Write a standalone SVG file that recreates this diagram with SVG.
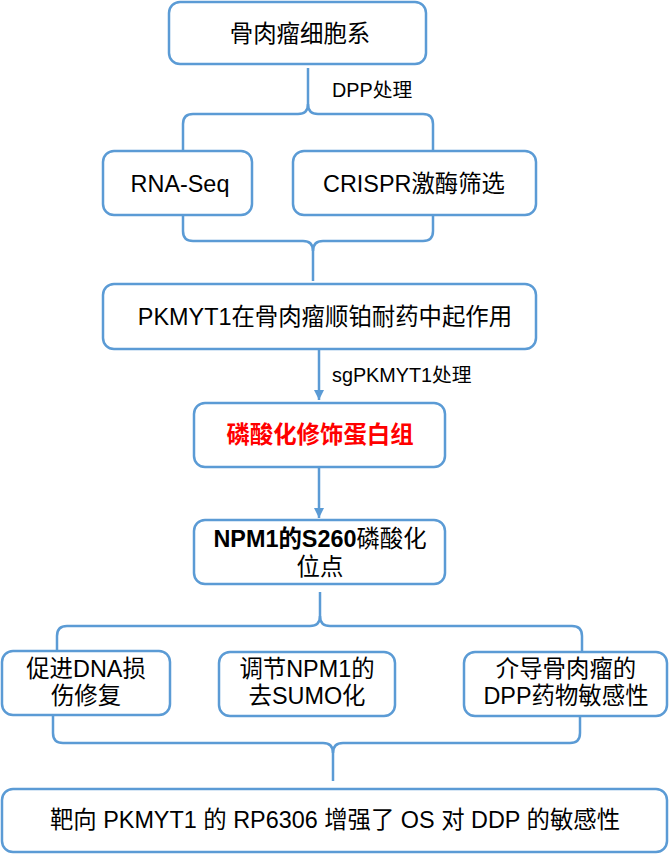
<svg xmlns="http://www.w3.org/2000/svg" width="670" height="854" viewBox="0 0 670 854">
<style>
.box{fill:#fff;stroke:#5B9BD5;stroke-width:2.5}
.ln{fill:none;stroke:#5B9BD5;stroke-width:2.5}
.t{font-family:"Liberation Sans","Noto Sans CJK SC",sans-serif;font-size:23.4px;fill:#000;text-anchor:middle}
.lb{font-family:"Liberation Sans","Noto Sans CJK SC",sans-serif;font-size:19.8px;fill:#000}
.red{fill:#FF0000;font-weight:bold}
</style>
<defs>
<marker id="arr" markerWidth="11" markerHeight="10" refX="10" refY="5" orient="auto" markerUnits="userSpaceOnUse">
<path d="M0,0 L10,5 L0,10 Z" fill="#5B9BD5"/>
</marker>
</defs>
<g id="connectors">
<path class="ln" d="M308,68 V104 Q308,114 298,114 H193 Q183,114 183,124 V150"/>
<path class="ln" d="M308,104 Q308,114 318,114 H423 Q433,114 433,124 V150"/>
<path class="ln" d="M183,215 V231 Q183,241 193,241 H303 Q313,241 313,251 V281"/>
<path class="ln" d="M433,215 V231 Q433,241 423,241 H323 Q313,241 313,251"/>
<path class="ln" d="M319,349 V400" marker-end="url(#arr)"/>
<path class="ln" d="M319,467 V518" marker-end="url(#arr)"/>
<path class="ln" d="M320,592 V616 Q320,626 310,626 H67 Q57,626 57,636 V651"/>
<path class="ln" d="M320,616 Q320,626 330,626 H572 Q582,626 582,636 V652"/>
<path class="ln" d="M53,715 V733 Q53,743 63,743 H323 Q333,743 333,753 V781"/>
<path class="ln" d="M580,715 V733 Q580,743 570,743 H343 Q333,743 333,753"/>
<text class="lb" x="332" y="97">DPP处理</text>
<text class="lb" x="332" y="382">sgPKMYT1处理</text>
</g>
<g id="n1">
<rect class="box" x="169" y="2" width="257" height="62" rx="11"/>
<text class="t" x="300" y="42">骨肉瘤细胞系</text>
</g>
<g id="n2">
<rect class="box" x="103" y="151" width="149" height="64" rx="11"/>
<text class="t" x="180" y="192">RNA-Seq</text>
</g>
<g id="n3">
<rect class="box" x="293" y="151" width="243" height="64" rx="11"/>
<text class="t" x="414" y="192">CRISPR激酶筛选</text>
</g>
<g id="n4">
<rect class="box" x="103" y="284" width="433" height="65" rx="11"/>
<text class="t" x="325" y="325">PKMYT1在骨肉瘤顺铂耐药中起作用</text>
</g>
<g id="n5">
<rect class="box" x="194" y="403" width="251" height="64" rx="11"/>
<text class="t red" x="320" y="443">磷酸化修饰蛋白组</text>
</g>
<g id="n6">
<rect class="box" x="194" y="520" width="251" height="64" rx="11"/>
<text class="t" x="320" y="547"><tspan font-weight="bold">NPM1的S260</tspan>磷酸化</text>
<text class="t" x="320" y="575">位点</text>
</g>
<g id="n7">
<rect class="box" x="2" y="651" width="168" height="64" rx="11"/>
<text class="t" x="86" y="677">促进DNA损</text>
<text class="t" x="86" y="704">伤修复</text>
</g>
<g id="n8">
<rect class="box" x="219" y="652" width="176" height="64" rx="11"/>
<text class="t" x="307" y="677">调节NPM1的</text>
<text class="t" x="307" y="704">去SUMO化</text>
</g>
<g id="n9">
<rect class="box" x="464" y="652" width="203" height="64" rx="11"/>
<text class="t" x="566" y="677">介导骨肉瘤的</text>
<text class="t" x="566" y="704">DPP药物敏感性</text>
</g>
<g id="n10">
<rect class="box" x="2" y="789" width="665" height="63" rx="11"/>
<text class="t" x="335" y="828">靶向 PKMYT1 的 RP6306 增强了 OS 对 DDP 的敏感性</text>
</g>
</svg>
